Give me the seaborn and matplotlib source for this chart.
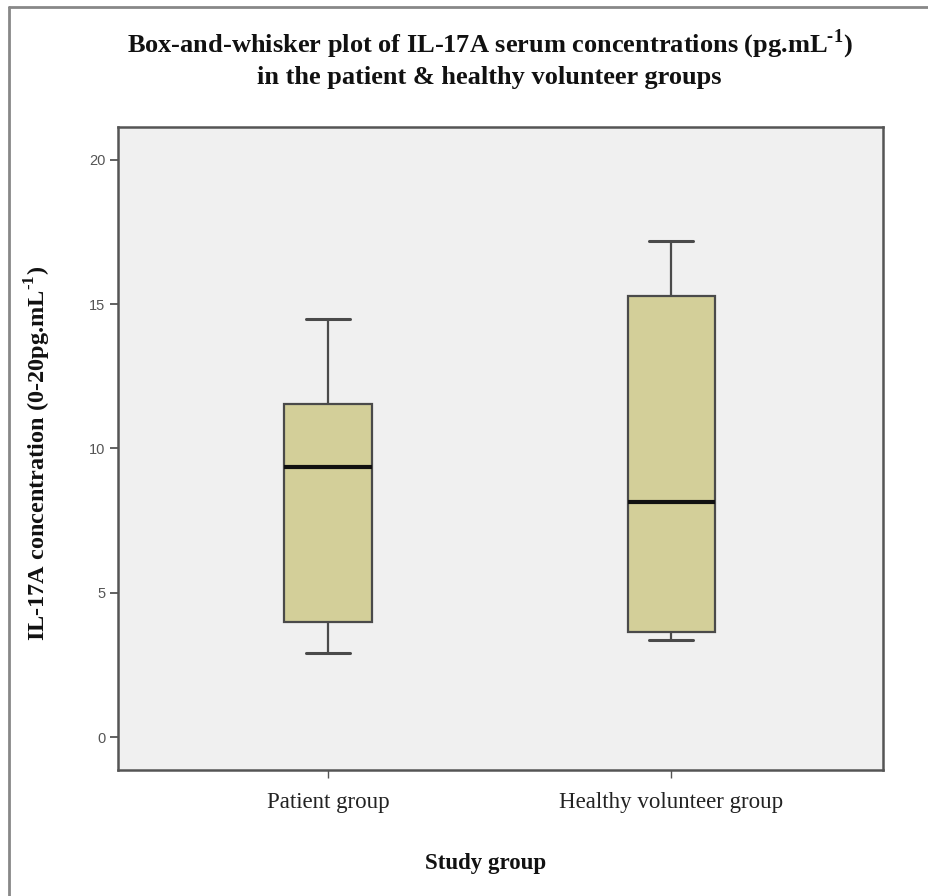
import matplotlib
matplotlib.use("Agg")
import matplotlib.pyplot as plt
import pandas as pd
import seaborn as sns
from matplotlib.lines import Line2D

# five-number summaries (min, Q1, median, Q3, max)
groups = ["Patient group", "Healthy volunteer group"]
patient_vals = [2.9, 4.0, 9.35, 11.55, 14.5]
healthy_vals = [3.35, 3.65, 8.15, 15.3, 17.2]
yticks = [0, 5, 10, 15, 20]

df = pd.DataFrame({
    "Study group": [groups[0]] * len(patient_vals) + [groups[1]] * len(healthy_vals),
    "IL17A": patient_vals + healthy_vals,
})

sns.set_style("white")
plt.rcParams["font.family"] = ["Liberation Serif", "DejaVu Serif"]
plt.rcParams["mathtext.fontset"] = "custom"
plt.rcParams["mathtext.rm"] = "Liberation Serif:bold"
plt.rcParams["mathtext.bf"] = "Liberation Serif:bold"

fig = plt.figure(figsize=(9.29, 8.96), dpi=100)
ax = fig.add_axes([0.127, 0.1406, 0.8237, 0.7177])
ax.set_facecolor("#f0f0f0")

edge = "#4a4a4a"
sns.boxplot(data=df, x="Study group", y="IL17A", order=groups, ax=ax,
            color="#d3cf99", width=0.254, whis=1.5, saturation=1,
            linewidth=1.6, linecolor=edge,
            medianprops=dict(color="#111111", linewidth=3),
            capprops=dict(color=edge, linewidth=2.2),
            whiskerprops=dict(color=edge, linewidth=1.6),
            boxprops=dict(edgecolor=edge, linewidth=1.6))

ax.set_ylim(-1.14, 21.14)
ax.set_xlim(-0.612, 1.618)
ax.set_yticks(yticks)
ax.set_yticklabels([str(t) for t in yticks], fontfamily="Liberation Sans",
                   fontsize=10.5, color="#555555")
ax.set_xticks([0, 1])
ax.set_xticklabels(groups, fontsize=16.5, color="#222222")
ax.tick_params(axis="y", direction="out", length=6, width=1.3, color="#555555", pad=3, left=True)
ax.tick_params(axis="x", direction="out", length=6, width=1.0, color="#555555", pad=10, bottom=True)
for s in ax.spines.values():
    s.set_color("#555555")
    s.set_linewidth(1.8)
    s.set_visible(True)

ax.set_xlabel("")
ax.set_ylabel("")
fig.text(0.523, 0.036, "Study group", ha="center", va="center",
         fontsize=16.5, fontweight="bold", color="#111111")
fig.text(0.041, 0.494, r"IL-17A concentration (0-20pg.mL$^{\text{-1}}$)",
         ha="center", va="center", rotation=90, fontsize=17.5, fontweight="bold",
         color="#111111")
fig.text(0.527, 0.935,
         "Box-and-whisker plot of IL-17A serum concentrations (pg.mL$^{\\text{-1}}$)\n"
         "in the patient & healthy volunteer groups",
         ha="center", va="center", fontsize=19, fontweight="bold", color="#111111",
         linespacing=1.3)

# frame lines of the original figure (top and left only)
fig.add_artist(Line2D([0.0097, 1.0], [0.9922, 0.9922], color="#888888", linewidth=2,
                      transform=fig.transFigure))
fig.add_artist(Line2D([0.0097, 0.0097], [0.0, 0.9922], color="#888888", linewidth=2,
                      transform=fig.transFigure))

fig.savefig("out.png", dpi=100, facecolor="white")
